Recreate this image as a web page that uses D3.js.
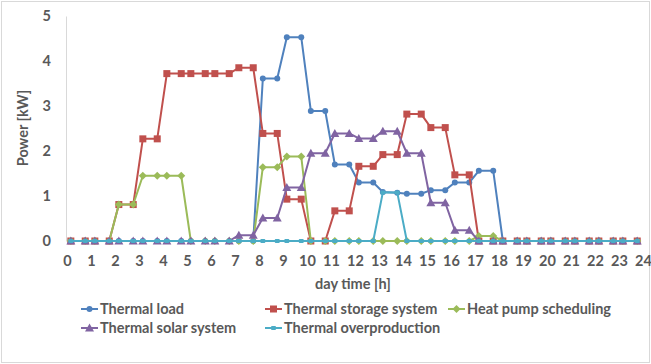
<!doctype html>
<html>
<head>
<title>thermal power</title>
<script src="https://d3js.org/d3.v7.min.js"></script>
<style>
  body { margin: 0; background: #fff; }
  text { font-family: Lato, sans-serif; font-weight: bold; fill: #595959; }
</style>
</head>
<body>
<script>

// sample times [h]
var times = [0.16, 0.76, 1.16, 1.76, 2.16, 2.76, 3.16, 3.76, 4.16, 4.76, 5.16, 5.76,
             6.16, 6.76, 7.16, 7.76, 8.16, 8.76, 9.16, 9.76, 10.16, 10.76, 11.16, 11.76,
             12.16, 12.76, 13.16, 13.76, 14.16, 14.76, 15.16, 15.76, 16.16, 16.76, 17.16, 17.76,
             18.16, 18.76, 19.16, 19.76, 20.16, 20.76, 21.16, 21.76, 22.16, 22.76, 23.16, 23.76];

// power [kW]
var thermalLoad = [0, 0, 0, 0, 0, 0, 0, 0, 0, 0, 0, 0, 0, 0, 0, 0,
                   3.61, 3.61, 4.53, 4.53, 2.89, 2.89, 1.70, 1.70, 1.30, 1.30, 1.09, 1.07,
                   1.05, 1.05, 1.13, 1.13, 1.30, 1.30, 1.56, 1.56,
                   0, 0, 0, 0, 0, 0, 0, 0, 0, 0, 0, 0];
var thermalStorage = [0, 0, 0, 0, 0.81, 0.81, 2.27, 2.27, 3.72, 3.72, 3.72, 3.72, 3.72, 3.72,
                      3.85, 3.85, 2.39, 2.39, 0.93, 0.93, 0, 0, 0.67, 0.67, 1.66, 1.66,
                      1.92, 1.92, 2.82, 2.82, 2.52, 2.52, 1.47, 1.47,
                      0, 0, 0, 0, 0, 0, 0, 0, 0, 0, 0, 0, 0, 0];
var heatPump = [0, 0, 0, 0, 0.81, 0.81, 1.45, 1.45, 1.45, 1.45, 0, 0, 0, 0, 0, 0,
                1.64, 1.64, 1.88, 1.88, 0, 0, 0, 0, 0, 0, 0, 0, 0, 0, 0, 0, 0, 0,
                0.11, 0.11, 0, 0, 0, 0, 0, 0, 0, 0, 0, 0, 0, 0];
var thermalSolar = [0, 0, 0, 0, 0, 0, 0, 0, 0, 0, 0, 0, 0, 0,
                    0.13, 0.13, 0.51, 0.51, 1.19, 1.19, 1.95, 1.95, 2.39, 2.39, 2.28, 2.28,
                    2.44, 2.44, 1.95, 1.95, 0.85, 0.85, 0.24, 0.24,
                    0, 0, 0, 0, 0, 0, 0, 0, 0, 0, 0, 0, 0, 0];
var overproduction = [0, 0, 0, 0, 0, 0, 0, 0, 0, 0, 0, 0, 0, 0, 0, 0, 0, 0, 0, 0, 0, 0, 0, 0,
                      0, 0, 1.08, 1.08, 0, 0, 0, 0, 0, 0, 0, 0, 0, 0, 0, 0, 0, 0, 0, 0, 0, 0, 0, 0];

var seriesNames = ['Thermal load', 'Thermal storage system', 'Heat pump scheduling',
                   'Thermal solar system', 'Thermal overproduction'];
var xTicks = [0, 1, 2, 3, 4, 5, 6, 7, 8, 9, 10, 11, 12, 13, 14, 15, 16, 17, 18, 19, 20, 21, 22, 23, 24];
var yTicks = [0, 1, 2, 3, 4, 5];

var series = [
  { name: seriesNames[0], values: thermalLoad, color: '#4f81bd', marker: 'circle' },
  { name: seriesNames[1], values: thermalStorage, color: '#c0504d', marker: 'square' },
  { name: seriesNames[2], values: heatPump, color: '#9bbb59', marker: 'diamond' },
  { name: seriesNames[3], values: thermalSolar, color: '#8064a2', marker: 'triangle' },
  { name: seriesNames[4], values: overproduction, color: '#4bacc6', marker: 'dash' }
];

var width = 651, height = 364;

var svg = d3.select('body').append('svg')
    .attr('width', width)
    .attr('height', height);

// chart border
svg.append('rect')
    .attr('x', 1.5).attr('y', 1.5)
    .attr('width', width - 3).attr('height', height - 3)
    .attr('fill', '#fff')
    .attr('stroke', '#d9d9d9');

var xScale = d3.scaleLinear().domain([0, 24]).range([67, 643]);
var yScale = d3.scaleLinear().domain([0, 5]).range([241, 16]);

// y axis
var yAxis = svg.append('g')
    .attr('transform', 'translate(66, 0)')
    .call(d3.axisLeft(yScale).tickValues(yTicks).tickSize(0).tickPadding(15).tickFormat(d3.format('d')));
yAxis.select('.domain').attr('stroke', '#d9d9d9').attr('stroke-width', 1);
yAxis.selectAll('text').style('font-size', '14.5px').style('font-family', 'Lato, sans-serif').attr('fill', '#595959');

// x axis
var xAxis = svg.append('g')
    .attr('transform', 'translate(0, 241)')
    .call(d3.axisBottom(xScale).tickValues(xTicks).tickSize(0).tickPadding(15).tickFormat(d3.format('d')));
xAxis.select('.domain').remove();
xAxis.selectAll('text').style('font-size', '14.5px').style('font-family', 'Lato, sans-serif').attr('fill', '#595959');

// axis titles
svg.append('text')
    .attr('x', 353).attr('y', 289)
    .style('font-size', '14.5px')
    .style('text-anchor', 'middle')
    .text('day time [h]');

svg.append('text')
    .attr('transform', 'translate(28, 128) rotate(-90)')
    .style('font-size', '14.5px')
    .style('text-anchor', 'middle')
    .text('Power [kW]');

function drawMarker(g, type, color) {
  if (type === 'circle') {
    g.append('circle').attr('r', 3).attr('fill', color);
  } else if (type === 'square') {
    g.append('rect').attr('x', -3.5).attr('y', -3.5).attr('width', 7).attr('height', 7).attr('fill', color);
  } else if (type === 'diamond') {
    g.append('path').attr('d', 'M0,-4L4,0L0,4L-4,0Z').attr('fill', color);
  } else if (type === 'triangle') {
    g.append('path').attr('d', 'M0,-4.5L4.5,3.5L-4.5,3.5Z').attr('fill', color);
  } else {
    g.append('rect').attr('x', -2.5).attr('y', -2).attr('width', 5).attr('height', 4).attr('rx', 1).attr('fill', color);
  }
}

var line = d3.line()
    .x(function(d, i) { return xScale(times[i]); })
    .y(function(d) { return yScale(d); });

series.forEach(function(s) {
  var g = svg.append('g');
  g.append('path')
      .attr('d', line(s.values))
      .attr('fill', 'none')
      .attr('stroke', s.color)
      .attr('stroke-width', 2)
      .attr('stroke-linejoin', 'round');
  s.values.forEach(function(v, i) {
    var m = g.append('g').attr('transform', 'translate(' + xScale(times[i]) + ',' + yScale(v) + ')');
    drawMarker(m, s.marker, s.color);
  });
});

// legend
var legendPos = [[81, 309], [265, 309], [448, 309], [81, 328], [265, 328]];
series.forEach(function(s, i) {
  var g = svg.append('g').attr('transform', 'translate(' + legendPos[i][0] + ',' + legendPos[i][1] + ')');
  g.append('line').attr('x1', 0).attr('x2', 17).attr('y1', 0).attr('y2', 0)
      .attr('stroke', s.color).attr('stroke-width', 2);
  var m = g.append('g').attr('transform', 'translate(8.5, 0)');
  drawMarker(m, s.marker, s.color);
  g.append('text').attr('x', 19).attr('y', 5)
      .style('font-size', '14.5px')
      .text(s.name);
});

</script>
</body>
</html>
